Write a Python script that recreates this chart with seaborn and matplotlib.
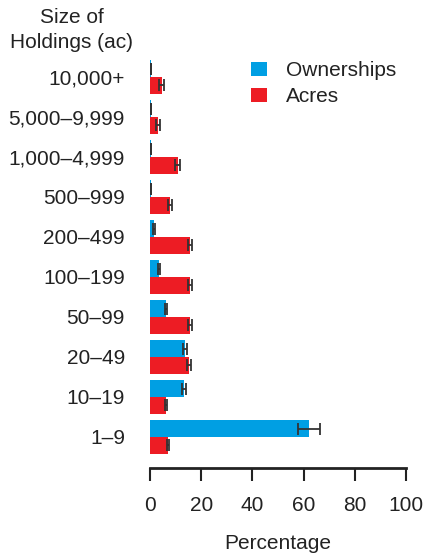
import numpy as np
import pandas as pd
import matplotlib
matplotlib.use('Agg')
import matplotlib.pyplot as plt
import seaborn as sns

# ─── Data ───────────────────────────────────────────────────────────────────
sizes = ['10,000+', '5,000\u20139,999', '1,000\u20134,999', '500\u2013999', '200\u2013499',
         '100\u2013199', '50\u201399', '20\u201349', '10\u201319', '1\u20139']
ownerships = [0.3, 0.3, 0.3, 0.3, 1.6, 3.5, 6.2, 13.7, 13.3, 62.1]
ownerships_err = [0.1, 0.1, 0.1, 0.1, 0.4, 0.4, 0.5, 0.9, 0.9, 4.2]
acres = [4.5, 3.0, 10.8, 7.8, 15.6, 15.6, 15.6, 15.2, 6.2, 7.0]
acres_err = [0.8, 0.8, 0.9, 0.8, 0.8, 0.8, 0.8, 0.8, 0.5, 0.5]

series = ['Ownerships', 'Acres']
colors = ['#009FE3', '#ED1C24']

df = pd.DataFrame({
    'size': sizes * 2,
    'pct': ownerships + acres,
    'err': ownerships_err + acres_err,
    'series': ['Ownerships'] * len(sizes) + ['Acres'] * len(sizes),
})

# ─── Plot ───────────────────────────────────────────────────────────────────
sns.set_style('white')
plt.rcParams['font.family'] = ['Liberation Sans', 'DejaVu Sans']
FS = 15
TXT = '#222222'

fig = plt.figure(figsize=(4.26, 5.56), dpi=100)
ax = fig.add_axes([150/426, 1 - 468/556, 256/426, 418/556])

sns.barplot(data=df, y='size', x='pct', hue='series', order=sizes,
            hue_order=series, palette=colors, orient='h', width=0.83,
            errorbar=None, saturation=1, ax=ax, linewidth=0)

# error bars centred on each bar
for cont, s in zip(ax.containers, series):
    sub = df[df['series'] == s].set_index('size').loc[sizes]
    ys = [p.get_y() + p.get_height() / 2 for p in cont.patches]
    ws = [p.get_width() for p in cont.patches]
    ax.errorbar(ws, ys, xerr=sub['err'].values, fmt='none', ecolor='#333333',
                elinewidth=1.3, capsize=4.5, capthick=1.3)

ax.set_xlim(0, 100)
ax.set_ylim(9.775, -0.675)
ax.set_xticks([0, 20, 40, 60, 80, 100])
ax.set_xlabel('Percentage', fontsize=FS, labelpad=13, color=TXT)
ax.set_ylabel('')
for sp in ['top', 'right', 'left']:
    ax.spines[sp].set_visible(False)
ax.spines['bottom'].set_linewidth(2)
ax.spines['bottom'].set_color(TXT)
ax.tick_params(axis='x', direction='out', length=9, width=1.5, pad=11.5,
               labelsize=FS, colors=TXT, bottom=True)
ax.tick_params(axis='y', length=0, pad=18, labelsize=FS, colors=TXT)

leg = ax.legend(loc='upper left', bbox_to_anchor=(101/256, 1 - 11/418), frameon=False,
                fontsize=FS, handlelength=0.77, handleheight=0.67,
                handletextpad=0.9, labelspacing=0.35, borderaxespad=0, borderpad=0)
for t in leg.get_texts():
    t.set_color(TXT)

fig.text(72/426, 1 - 8/556, 'Size of\nHoldings (ac)', ha='center', va='top',
         fontsize=FS, color=TXT, linespacing=1.4)

fig.savefig('out.png', dpi=100)
